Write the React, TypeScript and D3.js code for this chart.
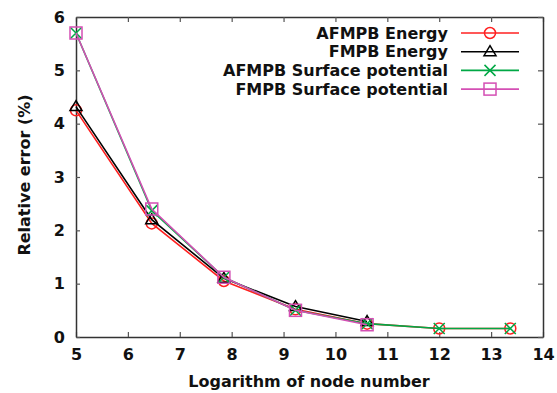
import { useRef, useEffect } from 'react';
import * as d3 from 'd3';

const nodeLog = [5.0, 6.46, 7.85, 9.23, 10.61, 12.0, 13.37];
const afmpbEnergy = [4.25, 2.13, 1.05, 0.52, 0.25, 0.16, 0.16];
const fmpbEnergy = [4.32, 2.2, 1.1, 0.57, 0.29];
const afmpbSurface = [5.7, 2.37, 1.12, 0.5, 0.25, 0.16, 0.16];
const fmpbSurface = [5.7, 2.4, 1.12, 0.5, 0.23];
const xTicks = [5, 6, 7, 8, 9, 10, 11, 12, 13, 14];
const yTicks = [0, 1, 2, 3, 4, 5, 6];

const series = [
  { name: 'AFMPB Energy', values: afmpbEnergy, color: '#ff2020', marker: 'circle' },
  { name: 'FMPB Energy', values: fmpbEnergy, color: '#000000', marker: 'triangle' },
  { name: 'AFMPB Surface potential', values: afmpbSurface, color: '#00a845', marker: 'cross' },
  { name: 'FMPB Surface potential', values: fmpbSurface, color: '#d44fb4', marker: 'square' },
];

const drawMarker = (g, type, x, y, color) => {
  if (type === 'circle') {
    g.append('circle').attr('cx', x).attr('cy', y).attr('r', 5.5)
      .attr('fill', 'none').attr('stroke', color).attr('stroke-width', 1.5);
  } else if (type === 'triangle') {
    g.append('path')
      .attr('d', `M${x},${y - 6}L${x + 6},${y + 4}L${x - 6},${y + 4}Z`)
      .attr('fill', 'none').attr('stroke', color).attr('stroke-width', 1.5);
  } else if (type === 'cross') {
    g.append('path')
      .attr('d', `M${x - 5.5},${y - 5.5}L${x + 5.5},${y + 5.5}M${x - 5.5},${y + 5.5}L${x + 5.5},${y - 5.5}`)
      .attr('fill', 'none').attr('stroke', color).attr('stroke-width', 1.5);
  } else {
    g.append('rect').attr('x', x - 6).attr('y', y - 6).attr('width', 12).attr('height', 12)
      .attr('fill', 'none').attr('stroke', color).attr('stroke-width', 1.5);
  }
};

const App = () => {
  const svgRef = useRef(null);

  useEffect(() => {
    const width = 557;
    const height = 393;
    const left = 76;
    const right = 543;
    const top = 17;
    const bottom = 337;

    const xScale = d3.scaleLinear([5, 14], [left, right]);
    const yScale = d3.scaleLinear([0, 6], [bottom, top]);

    const svg = d3.select(svgRef.current);
    svg.selectAll('*').remove();
    svg.attr('width', width).attr('height', height).attr('viewBox', [0, 0, width, height]);

    const font = 'DejaVu Sans, Verdana, sans-serif';
    const axisColor = '#333';
    const tickColor = '#555';

    // bottom axis
    svg.append('g')
      .attr('transform', `translate(0,${bottom})`)
      .call(d3.axisBottom(xScale).tickValues(xTicks).tickSize(-5).tickSizeOuter(0).tickPadding(12).tickFormat(d3.format('d')))
      .call((g) => g.select('.domain').attr('stroke', axisColor).attr('stroke-width', 1.5))
      .call((g) => g.selectAll('.tick line').attr('stroke', tickColor).attr('stroke-width', 1.2))
      .call((g) => g.selectAll('.tick text').attr('font-size', 16).attr('font-weight', 'bold')
        .attr('font-family', font).attr('fill', '#111'));

    // top axis (ticks only)
    svg.append('g')
      .attr('transform', `translate(0,${top})`)
      .call(d3.axisTop(xScale).tickValues(xTicks).tickSize(-5).tickSizeOuter(0).tickFormat(() => ''))
      .call((g) => g.select('.domain').attr('stroke', axisColor).attr('stroke-width', 1.5))
      .call((g) => g.selectAll('.tick line').attr('stroke', tickColor).attr('stroke-width', 1.2));

    // left axis
    svg.append('g')
      .attr('transform', `translate(${left},0)`)
      .call(d3.axisLeft(yScale).tickValues(yTicks).tickSize(-4).tickSizeOuter(0).tickPadding(11).tickFormat(d3.format('d')))
      .call((g) => g.select('.domain').attr('stroke', axisColor).attr('stroke-width', 1.5))
      .call((g) => g.selectAll('.tick line').attr('stroke', tickColor).attr('stroke-width', 1.2))
      .call((g) => g.selectAll('.tick text').attr('font-size', 16).attr('font-weight', 'bold')
        .attr('font-family', font).attr('fill', '#111'));

    // right axis (ticks only)
    svg.append('g')
      .attr('transform', `translate(${right},0)`)
      .call(d3.axisRight(yScale).tickValues(yTicks).tickSize(-5).tickSizeOuter(0).tickFormat(() => ''))
      .call((g) => g.select('.domain').attr('stroke', axisColor).attr('stroke-width', 1.5))
      .call((g) => g.selectAll('.tick line').attr('stroke', tickColor).attr('stroke-width', 1.2));

    // axis titles
    svg.append('text')
      .attr('x', 309)
      .attr('y', 387)
      .attr('text-anchor', 'middle')
      .attr('font-size', 16).attr('font-weight', 'bold').attr('font-family', font).attr('fill', '#111')
      .text('Logarithm of node number');

    svg.append('text')
      .attr('transform', `translate(30,${(top + bottom) / 2 - 2}) rotate(-90)`)
      .attr('text-anchor', 'middle')
      .attr('font-size', 16).attr('font-weight', 'bold').attr('font-family', font).attr('fill', '#111')
      .text('Relative error (%)');

    // series
    series.forEach((s) => {
      const line = d3.line()
        .x((d, i) => xScale(nodeLog[i]))
        .y((d) => yScale(d));
      svg.append('path')
        .attr('d', line(s.values))
        .attr('fill', 'none')
        .attr('stroke', s.color)
        .attr('stroke-width', 1.6);
      const g = svg.append('g');
      s.values.forEach((v, i) => drawMarker(g, s.marker, xScale(nodeLog[i]), yScale(v), s.color));
    });

    // legend
    const legend = svg.append('g');
    series.forEach((s, i) => {
      const y = 33 + i * 18.7;
      legend.append('text')
        .attr('x', 448).attr('y', y).attr('dy', '0.35em')
        .attr('text-anchor', 'end')
        .attr('font-size', 16).attr('font-weight', 'bold').attr('font-family', font).attr('fill', '#111')
        .text(s.name);
      legend.append('line')
        .attr('x1', 461).attr('x2', 519).attr('y1', y).attr('y2', y)
        .attr('stroke', s.color).attr('stroke-width', 1.6);
      drawMarker(legend, s.marker, 490, y, s.color);
    });
  }, []);

  return (
    <svg ref={svgRef} style={{ position: 'absolute', left: 0, top: 0, background: '#fff' }} />
  );
};

export default App;
